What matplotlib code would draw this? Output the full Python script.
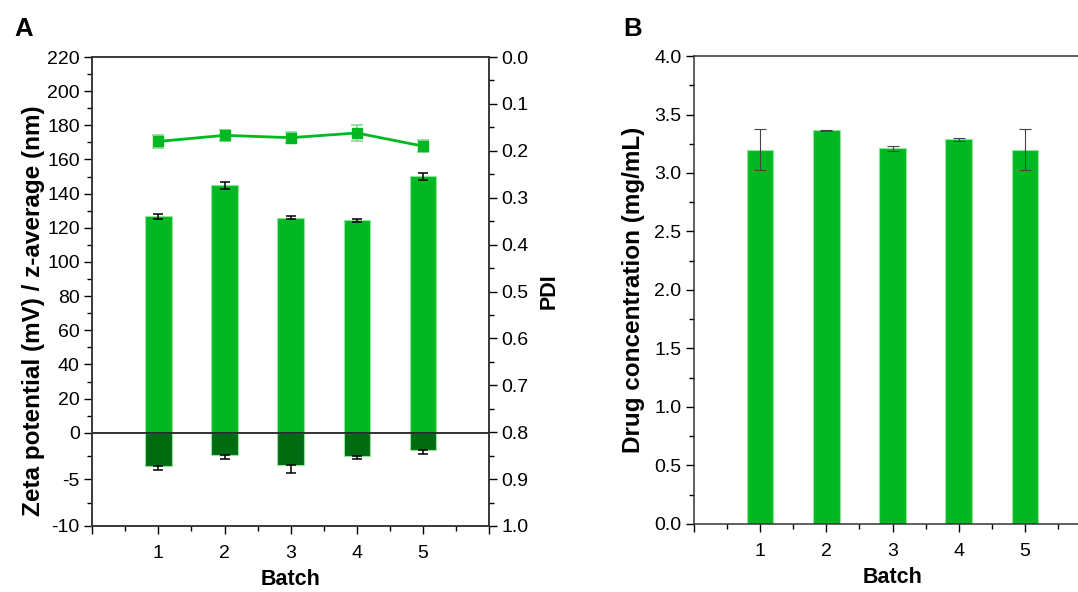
import numpy as np
import matplotlib
matplotlib.use("Agg")
import matplotlib.pyplot as plt

plt.rcParams['font.family'] = ['Liberation Sans', 'DejaVu Sans']
plt.rcParams['axes.unicode_minus'] = False

# data
batch = [1, 2, 3, 4, 5]
batch_labels = ['', '1', '2', '3', '4', '5', '']
z_avg = [126.7, 144.9, 125.9, 124.3, 150.1]
z_avg_err = [1.3, 1.9, 0.8, 0.9, 2.2]
zeta = [-3.55, -2.33, -3.5, -2.47, -1.8]
zeta_err = [0.4, 0.47, 0.82, 0.35, 0.43]
pdi = [0.180, 0.167, 0.172, 0.162, 0.190]
pdi_err = [0.014, 0.012, 0.012, 0.017, 0.0135]
drug = [3.20, 3.365, 3.21, 3.29, 3.20]
drug_err = [0.175, 0.005, 0.02, 0.013, 0.175]

left_major = [-10, -5, 0, 20, 40, 60, 80, 100, 120, 140, 160, 180, 200, 220]
left_minor = [-7.5, -2.5, 10, 30, 50, 70, 90, 110, 130, 150, 170, 190, 210]

green = '#00B822'
dark_green = '#006C12'
edge_green = '#8FE89A'
light_green = '#86DC92'

# negative side of the left axis is stretched (broken scale)
k = 5.456
def fwd(y):
    y = np.asarray(y, dtype=float)
    return np.where(y >= 0, y, y * k)
def inv(y):
    y = np.asarray(y, dtype=float)
    return np.where(y >= 0, y, y / k)

fig = plt.figure(figsize=(10.78, 5.92), dpi=100)
tick_fs = 14
label_fs = 15.5
ylabel_fs = 17.5

# ---- panel A ----
ax = fig.add_axes([0.0856, 0.1115, 0.3680, 0.7922])
ax.set_yscale('function', functions=(fwd, inv))
ax.set_xlim(0, 6)
ax.set_ylim(-10, 220)
ax.bar(batch, z_avg, width=0.4, color=green, edgecolor=edge_green, linewidth=0.8, zorder=2)
ax.bar(batch, zeta, width=0.4, color=dark_green, edgecolor=edge_green, linewidth=0.8, zorder=2)
ax.errorbar(batch, z_avg, yerr=z_avg_err, fmt='none', ecolor='black', elinewidth=1.1, capsize=3.5, capthick=1.1, zorder=3)
ax.errorbar(batch, zeta, yerr=[zeta_err, [0] * 5], fmt='none', ecolor='black', elinewidth=1.1, capsize=3.5, capthick=1.1, zorder=3)
ax.axhline(0, color='#222222', lw=1.3, zorder=4)
ax.set_yticks(left_major)
ax.set_yticklabels([str(v) for v in left_major])
ax.set_yticks(left_minor, minor=True)
ax.set_xticks(range(0, 7))
ax.set_xticklabels(batch_labels)
ax.set_xticks(np.arange(0.5, 6, 1), minor=True)
ax.set_xlabel('Batch', fontsize=label_fs, fontweight='bold', labelpad=5)
ax.set_ylabel('Zeta potential (mV) / z-average (nm)', fontsize=ylabel_fs, fontweight='bold')
ax.yaxis.set_label_coords(-0.12, 0.46)
ax.tick_params(which='major', direction='out', length=6, width=1, labelsize=tick_fs, pad=3)
ax.tick_params(which='minor', direction='out', length=3.5, width=1)
ax.tick_params(axis='x', which='major', pad=8)

ax2 = ax.twinx()
ax2.set_ylim(1.0, 0.0)
ax2.errorbar(batch, pdi, yerr=pdi_err, color=green, lw=2, marker='s', ms=7,
             ecolor=light_green, elinewidth=1.2, capsize=4, capthick=1.2, zorder=5)
ax2.set_yticks(np.arange(0, 1.01, 0.1))
ax2.set_yticklabels(['%.1f' % v for v in np.arange(0, 1.01, 0.1)])
ax2.set_yticks(np.arange(0.05, 1.0, 0.1), minor=True)
ax2.set_ylabel('PDI', fontsize=label_fs, fontweight='bold', labelpad=7)
ax2.tick_params(which='major', direction='out', length=6, width=1, labelsize=tick_fs, pad=3)
ax2.tick_params(which='minor', direction='out', length=3.5, width=1)

for a in (ax, ax2):
    for s in a.spines.values():
        s.set_color('#333333')
        s.set_linewidth(1.1)

# ---- panel B ----
bx = fig.add_axes([0.6438, 0.1149, 0.3683, 0.7905])
bx.set_xlim(0, 6)
bx.set_ylim(0, 4.0)
bx.bar(batch, drug, width=0.4, color=green, edgecolor=edge_green, linewidth=0.8, zorder=2)
bx.errorbar(batch, drug, yerr=drug_err, fmt='none', ecolor='#444444', elinewidth=0.8, capsize=4, capthick=0.8, zorder=3)
bx.set_yticks(np.arange(0, 4.01, 0.5))
bx.set_yticklabels(['%.1f' % v for v in np.arange(0, 4.01, 0.5)])
bx.set_yticks(np.arange(0.25, 4.0, 0.5), minor=True)
bx.set_xticks(range(0, 7))
bx.set_xticklabels(batch_labels)
bx.set_xticks(np.arange(0.5, 6, 1), minor=True)
bx.set_xlabel('Batch', fontsize=label_fs, fontweight='bold', labelpad=5)
bx.set_ylabel('Drug concentration (mg/mL)', fontsize=ylabel_fs, fontweight='bold', labelpad=7)
bx.tick_params(which='major', direction='out', length=6, width=1, labelsize=tick_fs, pad=3)
bx.tick_params(which='minor', direction='out', length=3.5, width=1)
bx.tick_params(axis='x', which='major', pad=8)
for s in bx.spines.values():
    s.set_color('#333333')
    s.set_linewidth(1.1)

fig.text(0.013, 0.951, 'A', fontsize=18.5, fontweight='bold', va='center')
fig.text(0.578, 0.951, 'B', fontsize=18.5, fontweight='bold', va='center')

fig.savefig('out.png', dpi=100)
